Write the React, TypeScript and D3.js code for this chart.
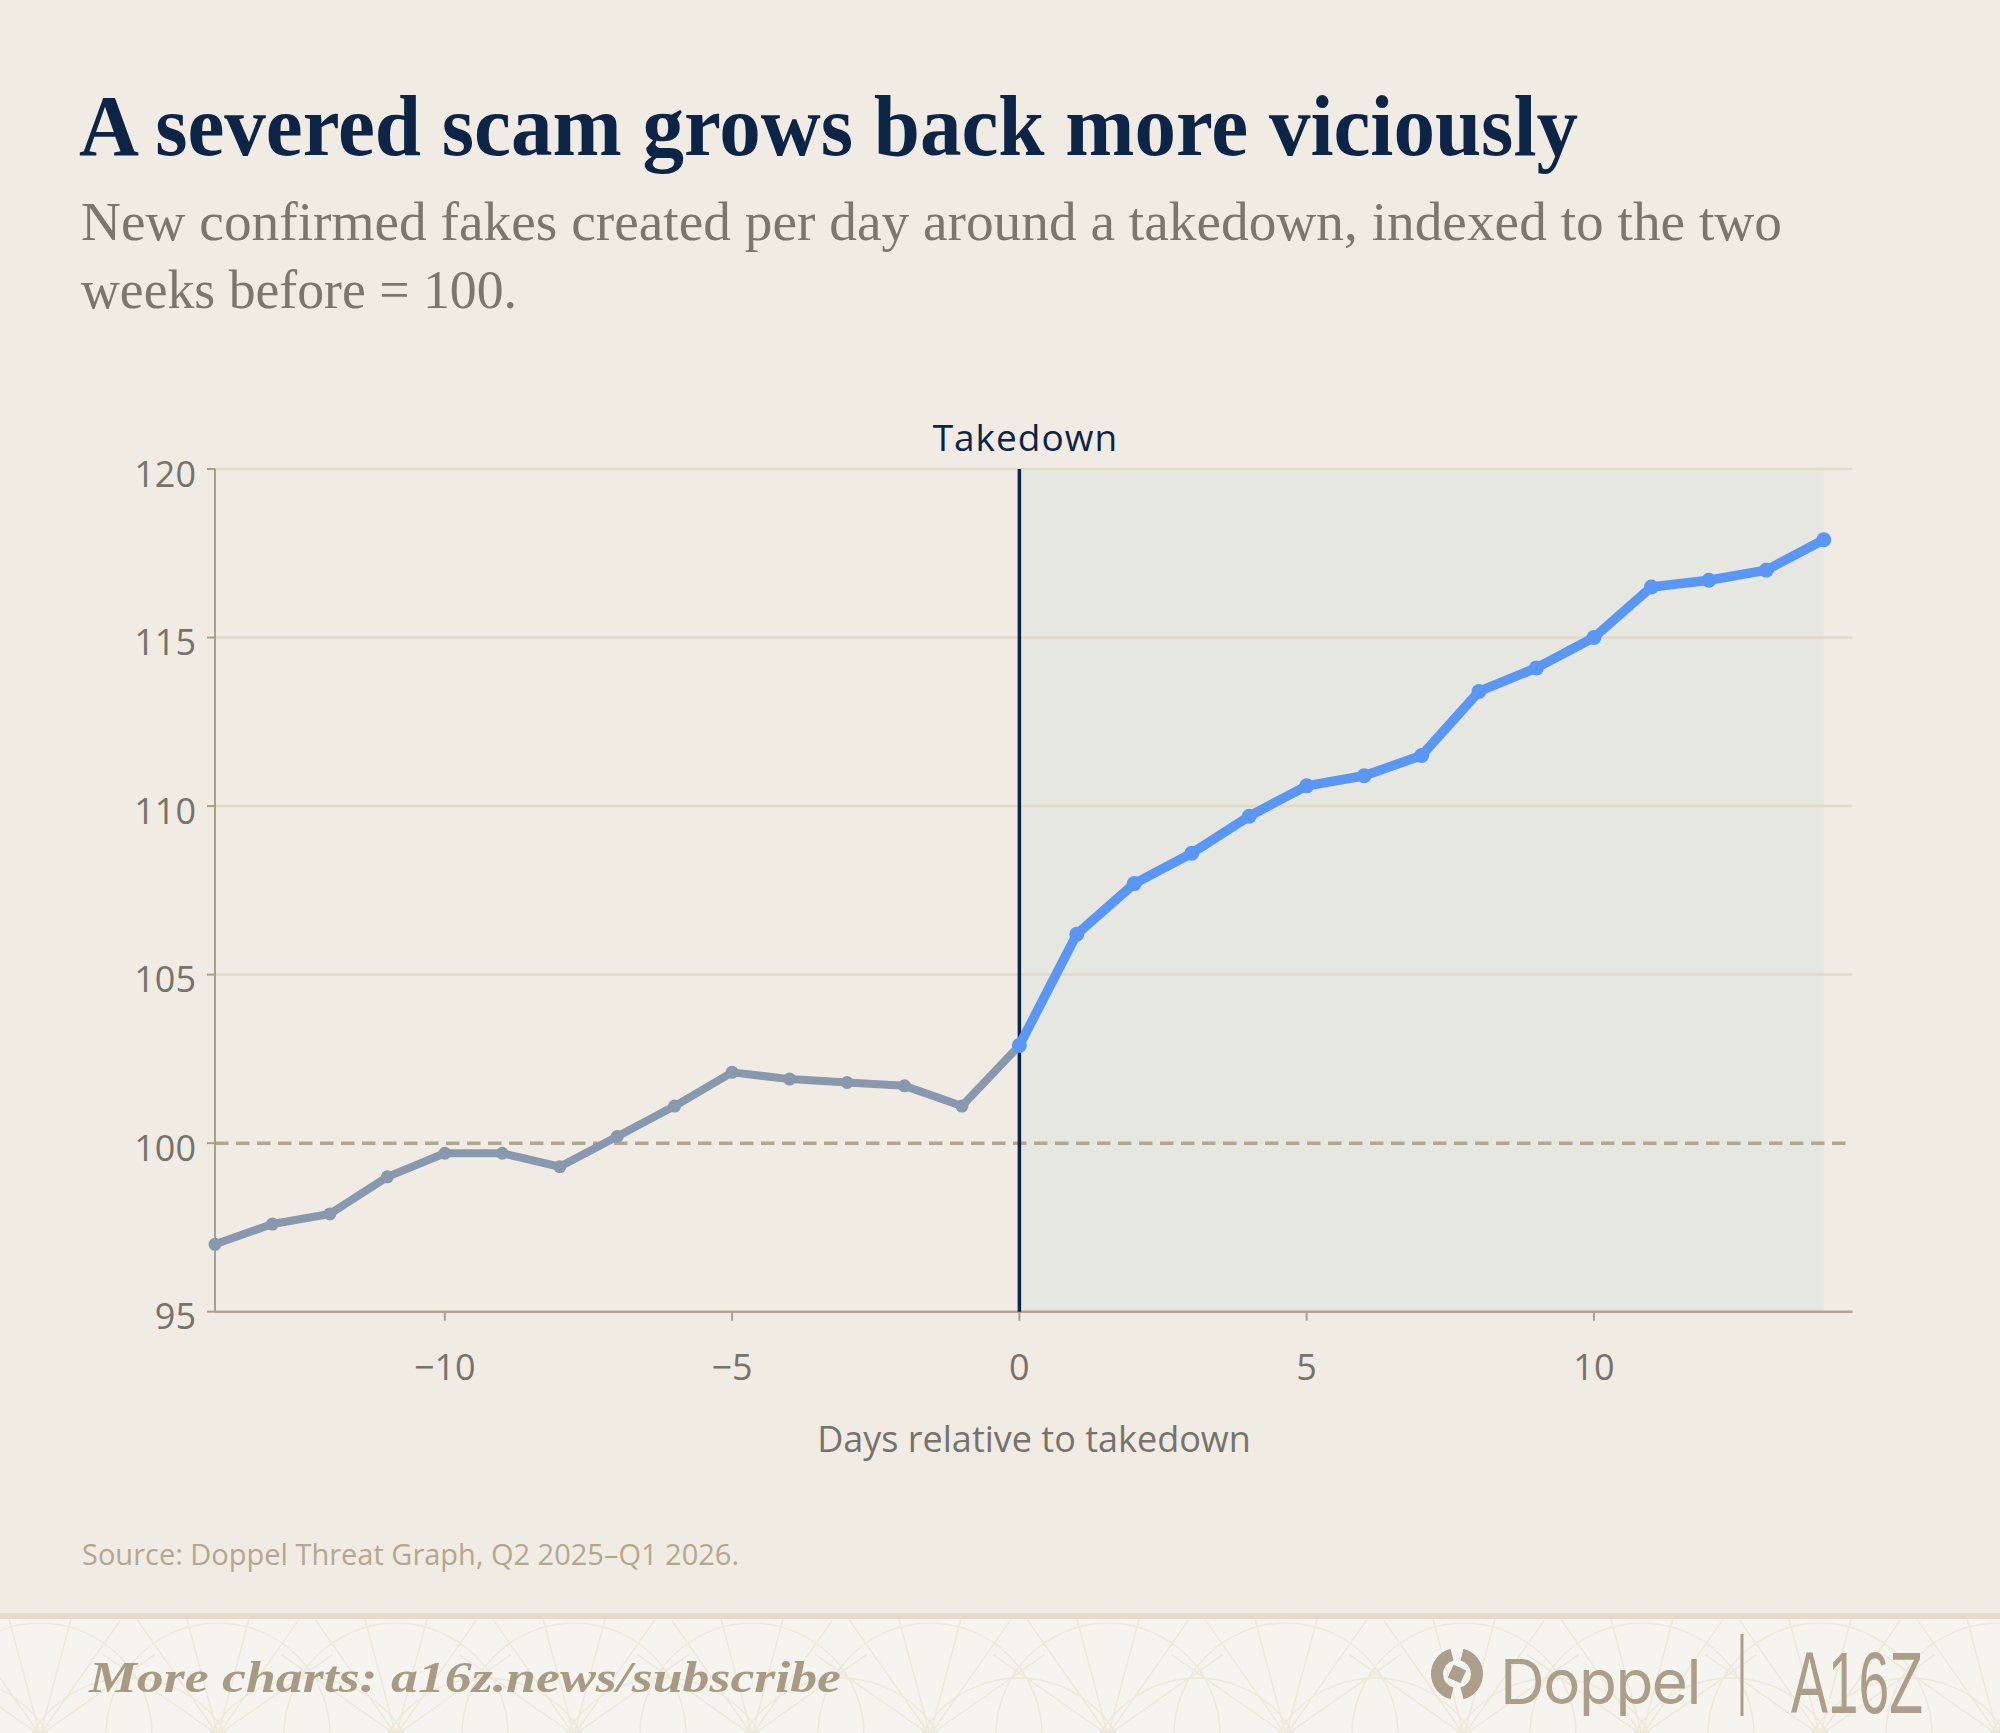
import { useMemo } from "react";
import * as d3 from "d3";

document.body.style.margin = "0";

// days relative to the takedown and the indexed count of new fakes
const DAYS = [-14, -13, -12, -11, -10, -9, -8, -7, -6, -5, -4, -3, -2, -1, 0,
  1, 2, 3, 4, 5, 6, 7, 8, 9, 10, 11, 12, 13, 14];
const INDEX = [97.0, 97.6, 97.9, 99.0, 99.7, 99.7, 99.3, 100.2, 101.1, 102.1, 101.9, 101.8, 101.7, 101.1, 102.9,
  106.2, 107.7, 108.6, 109.7, 110.6, 110.9, 111.5, 113.4, 114.1, 115.0, 116.5, 116.7, 117.0, 117.9];
const X_TICKS = [-10, -5, 0, 5, 10];
const Y_TICKS = [95, 100, 105, 110, 115, 120];
const GRID_VALUES = [105, 110, 115, 120];
const BASELINE = 100;
const TAKEDOWN_DAY = 0;

const W = 2000;
const H = 1733;
const BG = "#f0ece4";
const SANS = "'Open Sans', 'Noto Sans', sans-serif";
const SERIF = "'Liberation Serif', 'DejaVu Serif', serif";
const GREY = "#8898ae";
const BLUE = "#5a97f5";
const NAVY = "#0c2446";
const MUTED = "#77736b";
const LOGO = "#ab9f89";

const fmtTick = (v: number) => (v < 0 ? "\u2212" : "") + Math.abs(v);

export default function App() {
  const x = d3.scaleLinear().domain([-14, 14.5]).range([215, 1852.5]);
  const y = d3.scaleLinear().domain([95, 120]).range([1311.7, 469]);

  const points = DAYS.map((d, i) => ({ d, v: INDEX[i] }));
  const before = points.filter(p => p.d <= TAKEDOWN_DAY);
  const after = points.filter(p => p.d >= TAKEDOWN_DAY);
  const line = d3.line<{ d: number; v: number }>().x(p => x(p.d)).y(p => y(p.v));

  const [x0, x1] = x.range();
  const [yBottom, yTop] = y.range();
  const lastDay = DAYS[DAYS.length - 1];

  // faint fan pattern in the footer band
  const fan = useMemo(() => {
    const out: number[] = [];
    for (let i = -1; i < 13; i++) out.push(40 + i * 178);
    return out;
  }, []);

  const doppelArc = d3.arc<any>().innerRadius(14).outerRadius(26);

  return (
    <svg width={W} height={H} viewBox={`0 0 ${W} ${H}`} style={{ display: "block", background: BG }}>
      <rect x={0} y={0} width={W} height={H} fill={BG} />

      {/* heading */}
      <text x={79} y={155} fontFamily={SERIF} fontWeight={700} fontSize={86} fill={NAVY}
        textLength={1499} lengthAdjust="spacingAndGlyphs">
        A severed scam grows back more viciously
      </text>
      <text x={81} y={240} fontFamily={SERIF} fontSize={54} fill="#7b776f"
        textLength={1701} lengthAdjust="spacingAndGlyphs">
        New confirmed fakes created per day around a takedown, indexed to the two
      </text>
      <text x={81} y={308} fontFamily={SERIF} fontSize={54} fill="#7b776f"
        textLength={436} lengthAdjust="spacingAndGlyphs">
        weeks before = 100.
      </text>

      {/* post-takedown shading */}
      <rect x={x(TAKEDOWN_DAY)} y={yTop} width={x(lastDay) - x(TAKEDOWN_DAY)} height={yBottom - yTop} fill="#e7e7e1" />

      {/* grid */}
      {GRID_VALUES.map(v => (
        <line key={v} x1={x0} x2={x1} y1={y(v)} y2={y(v)} stroke="#e2dac8" strokeWidth={2.5} />
      ))}
      <line x1={x0} x2={x1} y1={y(BASELINE)} y2={y(BASELINE)} stroke="#b2a792" strokeWidth={3.5} strokeDasharray="13.5 7.5" />

      {/* axes */}
      <line x1={x0} x2={x0} y1={yTop} y2={yBottom} stroke="#a99f8f" strokeWidth={2} />
      <line x1={x0} x2={x1} y1={yBottom} y2={yBottom} stroke="#b0a592" strokeWidth={2.5} />
      {Y_TICKS.map(v => (
        <g key={v}>
          <line x1={x0 - 8} x2={x0} y1={y(v)} y2={y(v)} stroke="#a99f8f" strokeWidth={2} />
          <text x={196} y={y(v) + 17.5} textAnchor="end" fontFamily={SANS} fontSize={36} fill={MUTED}>{fmtTick(v)}</text>
        </g>
      ))}
      {X_TICKS.map(v => (
        <g key={v}>
          <line x1={x(v)} x2={x(v)} y1={yBottom} y2={yBottom + 9} stroke="#a99f8f" strokeWidth={2} />
          <text x={x(v)} y={1380} textAnchor="middle" fontFamily={SANS} fontSize={36} fill={MUTED}>{fmtTick(v)}</text>
        </g>
      ))}
      <text x={1034} y={1452} textAnchor="middle" fontFamily={SANS} fontSize={36} fill={MUTED}>
        Days relative to takedown
      </text>

      {/* takedown marker */}
      <line x1={x(TAKEDOWN_DAY)} x2={x(TAKEDOWN_DAY)} y1={yTop} y2={yBottom} stroke={NAVY} strokeWidth={3.5} />
      <text x={x(TAKEDOWN_DAY) + 6} y={451} textAnchor="middle" fontFamily={SANS} fontSize={37} letterSpacing={1} fill={NAVY}>
        Takedown
      </text>

      {/* series */}
      <path d={line(before) || ""} fill="none" stroke={GREY} strokeWidth={8} strokeLinejoin="round" strokeLinecap="round" />
      {before.map(p => <circle key={p.d} cx={x(p.d)} cy={y(p.v)} r={6.5} fill={GREY} />)}
      <path d={line(after) || ""} fill="none" stroke={BLUE} strokeWidth={9.5} strokeLinejoin="round" strokeLinecap="round" />
      {after.map(p => <circle key={p.d} cx={x(p.d)} cy={y(p.v)} r={7.5} fill={BLUE} />)}

      {/* source */}
      <text x={82} y={1565} fontFamily={SANS} fontSize={29} fill="#b5a78f">
        Source: Doppel Threat Graph, Q2 2025–Q1 2026.
      </text>

      {/* footer */}
      <clipPath id="foot">
        <rect x={0} y={1619} width={W} height={H - 1619} />
      </clipPath>
      <rect x={0} y={1619} width={W} height={H - 1619} fill="#f6f4ef" />
      <g clipPath="url(#foot)" fill="none" stroke="#eee8da" strokeWidth={1.5}>
        {fan.map((cx, i) => (
          <g key={i}>
            <circle cx={cx} cy={1735} r={112} />
            <circle cx={cx + 89} cy={1790} r={112} />
            {[-55, -35, -15, 15, 35, 55].map(a => (
              <line key={a} x1={cx} y1={1735}
                x2={cx + Math.sin((a * Math.PI) / 180) * 140}
                y2={1735 - Math.cos((a * Math.PI) / 180) * 140} />
            ))}
          </g>
        ))}
      </g>
      <rect x={0} y={1613} width={W} height={6} fill="#e3dccb" />

      <text x={89} y={1692} fontFamily={SERIF} fontStyle="italic" fontWeight={700} fontSize={45} fill="#a89b83"
        textLength={752} lengthAdjust="spacingAndGlyphs">
        More charts: a16z.news/subscribe
      </text>

      {/* logos */}
      <g transform="translate(1457,1674)" fill={LOGO}>
        <path d={doppelArc({ startAngle: Math.PI * 1.08, endAngle: Math.PI * 1.92 }) || ""} />
        <path d={doppelArc({ startAngle: Math.PI * 0.08, endAngle: Math.PI * 0.92 }) || ""} />
        <rect x={-7} y={-7} width={14} height={14} transform="rotate(25)" />
      </g>
      <text x={1500} y={1704} fontFamily="Inter, sans-serif" fontSize={62} letterSpacing={-1.5} fill={LOGO}>Doppel</text>
      <line x1={1742} x2={1742} y1={1634} y2={1716} stroke={LOGO} strokeWidth={3} />
      <text x={1791} y={1713} fontFamily="'Liberation Sans', sans-serif" fontSize={88} fill={LOGO}
        textLength={132} lengthAdjust="spacingAndGlyphs">A16Z</text>
    </svg>
  );
}
